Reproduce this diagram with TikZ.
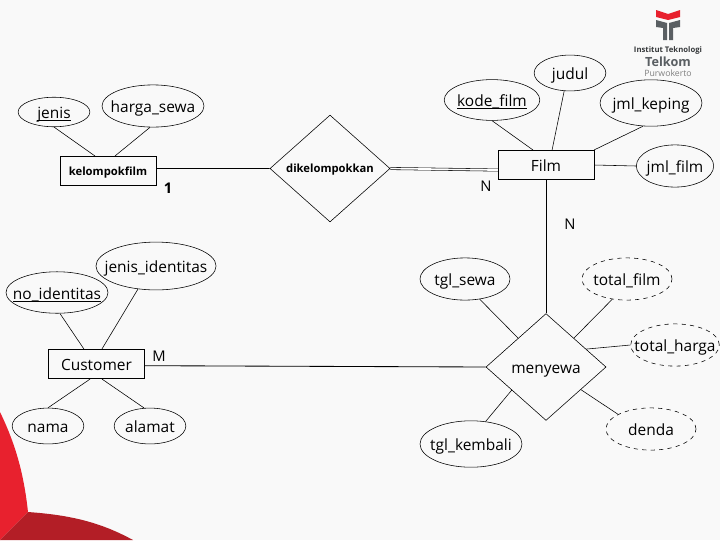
\documentclass[tikz,border=0pt]{standalone}
\usepackage{fontspec}
\setmainfont{Open Sans}
\usetikzlibrary{positioning, shapes.geometric}
\definecolor{Latar}{HTML}{F9F9F9}
\definecolor{Merah}{HTML}{E8212E}
\definecolor{MerahTua}{HTML}{B31E26}
\definecolor{Abu}{HTML}{5A5F63}
\newcommand{\kunci}[1]{\setbox0\hbox{#1}\rlap{\rule[-2pt]{\wd0}{0.8pt}}\box0}
\tikzset{
    teks/.style={font=\fontsize{11}{13}\selectfont, text height=11.5pt, text depth=2pt},
    tebal/.style={font=\fontsize{8}{10}\bfseries\selectfont, text height=8pt, text depth=2pt},
    entitas/.style={rectangle, draw, thin, minimum width=68pt, minimum height=21pt, inner sep=0pt, teks},
    atribut/.style={ellipse, draw, thin, inner xsep=-40pt, inner ysep=-8pt, teks},
    turunan/.style={atribut, dashed},
    relasi/.style={diamond, draw, thin, minimum width=85.4pt, minimum height=76pt, inner sep=-20pt, teks},
    kardinal/.style={font=\fontsize{10.5}{13}\selectfont},
    garis/.style={thin},
}
\begin{document}
\begin{tikzpicture}[x=0.025cm, y=-0.025cm]
    \useasboundingbox (0,0) rectangle (720,540);
    \fill[Latar] (0,0) rectangle (720,540);

    % Sudut merah
    \fill[Merah] (0,412) .. controls (16,445) and (24,475) .. (28,512) -- (0,540) -- cycle;
    \fill[MerahTua] (28,512) .. controls (70,515) and (100,522) .. (133,540) -- (0,540) -- cycle;

    % Logo
    \fill[Merah] (656,10) -- (668,14) -- (680,10) -- (680,17) -- (668,20) -- (656,17) -- cycle;
    \fill[Abu] (656,20) -- (667,23) -- (667,40) -- (663,40) -- (663,28) -- (656,27) -- cycle;
    \fill[Abu] (680,20) -- (669,23) -- (669,40) -- (673,40) -- (673,28) -- (680,27) -- cycle;
    \node[font=\fontsize{5.5}{6}\bfseries\selectfont, text=Abu!60!black] (institut) at (668,50) {Institut Teknologi};
    \node[font=\fontsize{9}{10}\bfseries\selectfont, text=Abu] (telkom) at (668,62) {Telkom};
    \node[font=\fontsize{6.2}{7}\selectfont, text=gray] (purwokerto) at (668,73) {Purwokerto};

    % Entitas
    \node[entitas, tebal] (kelompokfilm) at (108,171) {kelompokfilm};
    \node[entitas] (film) at (546,165) {Film};
    \node[entitas] (customer) at (96.5,364) {Customer};

    % Relasi
    \node[relasi, tebal] (dikelompokkan) at (330,168.5) {dikelompokkan};
    \node[relasi] (menyewa) at (546,367) {menyewa};

    % Atribut kelompokfilm
    \node[atribut, minimum width=51pt, minimum height=21pt] (jenis) at (54,112) {\kunci{jenis}};
    \node[atribut, minimum width=72.5pt, minimum height=30pt] (hargasewa) at (153,106) {harga\_sewa};

    % Atribut film
    \node[atribut, minimum width=68pt, minimum height=29pt] (kodefilm) at (492,100) {\kunci{kode\_film}};
    \node[atribut, minimum width=51pt, minimum height=25.5pt] (judul) at (570,73) {judul};
    \node[atribut, minimum width=72.5pt, minimum height=33pt] (jmlkeping) at (651,103) {jml\_keping};
    \node[atribut, minimum width=55pt, minimum height=30pt] (jmlfilm) at (675,166) {jml\_film};

    % Atribut customer
    \node[atribut, minimum width=85.4pt, minimum height=34pt] (jenisidentitas) at (156,266) {jenis\_identitas};
    \node[atribut, minimum width=72.5pt, minimum height=29.5pt] (noidentitas) at (57,292.5) {\kunci{no\_identitas}};
    \node[atribut, minimum width=51pt, minimum height=25.5pt] (nama) at (48,426) {nama};
    \node[atribut, minimum width=51pt, minimum height=25.5pt] (alamat) at (150,426) {alamat};

    % Atribut menyewa
    \node[atribut, minimum width=64pt, minimum height=30pt] (tglsewa) at (465,279) {tgl\_sewa};
    \node[atribut, minimum width=72.5pt, minimum height=33pt] (tglkembali) at (471,444) {tgl\_kembali};
    \node[turunan, minimum width=64pt, minimum height=30pt] (totalfilm) at (627,279) {total\_film};
    \node[turunan, minimum width=63pt, minimum height=30pt] (totalharga) at (675,345) {total\_harga};
    \node[turunan, minimum width=64pt, minimum height=30pt] (denda) at (651,429) {denda};

    % Garis
    \draw[garis] (jenis.-90) -- (kelompokfilm.131);
    \draw[garis] (hargasewa.-98) -- (kelompokfilm.65);
    \draw[garis] (kelompokfilm.3.5) -- (dikelompokkan.west);
    \draw[garis, double, double distance=1.2pt] (dikelompokkan.east) -- (film.186);
    \draw[garis] (kodefilm.-90) -- (film.131);
    \draw[garis] (judul.-108) -- (film.68);
    \draw[garis] (jmlkeping.-109) -- (film.north east);
    \draw[garis] (film.east) -- (jmlfilm.west);
    \draw[garis, semithick] (film.south) -- (menyewa.north);
    \draw[garis] (noidentitas.-82) -- (customer.130);
    \draw[garis] (jenisidentitas.-128) -- (customer.70);
    \draw[garis] (customer.-113) -- (nama.north);
    \draw[garis] (customer.-70) -- (alamat.108);
    \draw[garis, semithick] (customer.-2.4) -- (menyewa.west);
    \draw[garis] (tglsewa.-54) -- (menyewa.134);
    \draw[garis] (totalfilm.-126) -- (menyewa.46);
    \draw[garis] (totalharga.west) -- (menyewa.24);
    \draw[garis] (denda.156) -- (menyewa.-33);
    \draw[garis] (tglkembali.57) -- (menyewa.-146);

    % Kardinalitas
    \node[kardinal, font=\fontsize{10.5}{13}\bfseries\selectfont] (satu) at (168,188) {1};
    \node[kardinal] (nfilm) at (486,186) {N};
    \node[kardinal] (nsewa) at (570,224) {N};
    \node[kardinal] (mcustomer) at (159,356) {M};
\end{tikzpicture}
\end{document}
